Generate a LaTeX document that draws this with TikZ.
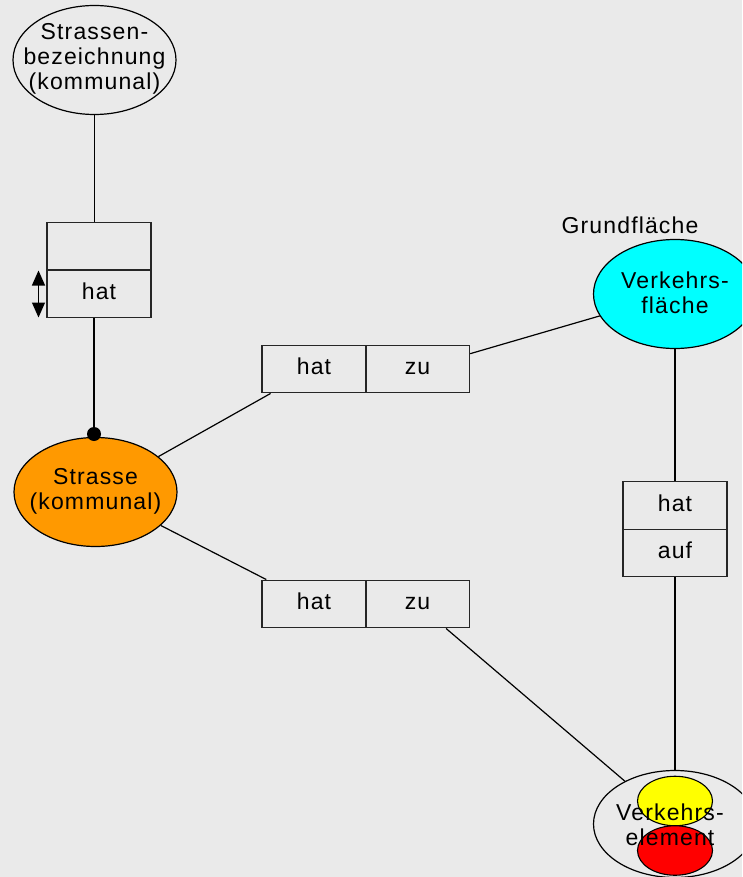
\documentclass[tikz,border=0pt]{standalone}
\usepackage{fontspec}
\setmainfont{Liberation Sans}[LetterSpace=5]
\usetikzlibrary{shapes.geometric,arrows.meta}
\definecolor{bg}{HTML}{EAEAEA}
\definecolor{orangefill}{HTML}{FF9900}
\definecolor{cyanfill}{HTML}{00FFFF}
\definecolor{yellowfill}{HTML}{FFFF00}
\definecolor{redfill}{HTML}{FF0000}
\tikzset{
  lbl/.style={font=\fontsize{23}{25}\selectfont, align=center, text=black, inner sep=0pt},
  entity/.style={ellipse, draw=black, line width=1.2pt, minimum width=163pt,
    minimum height=109pt, inner sep=0pt},
  cell/.style={rectangle, draw=black!85, line width=1.4pt, minimum width=104pt,
    minimum height=47.5pt, inner sep=0pt, lbl, text height=16.5pt, text depth=5pt},
  conn/.style={draw=black, line width=1.2pt},
  marker/.style={ellipse, draw=black, line width=1.1pt, minimum width=75pt,
    minimum height=49.5pt, inner sep=0pt},
}
\begin{document}
\begin{tikzpicture}[x=1pt, y=-1pt]
  \fill[bg] (0,0) rectangle (742,877);
  \useasboundingbox (0,0) rectangle (742,877);
  \clip (0,0) rectangle (742,877);

  % entities (outlines), their names are set on top
  \node[entity] (bez) at (94.5,60) {};
  \node[lbl] (bezt) at (94.5,58.5) {Strassen-\\bezeichnung\\(kommunal)};
  \node[entity, fill=orangefill] (str) at (95.5,492) {};
  \node[lbl] (strt) at (95.5,491) {Strasse\\(kommunal)};
  \node[entity, fill=cyanfill] (vf) at (675,294) {};
  \node[lbl] (vft) at (675,293) {Verkehrs-\\fläche};
  \node[lbl] (grund) at (630,225) {Grundfläche};
  \node[entity, minimum height=107pt] (ve) at (675,824) {};
  \node[marker, fill=yellowfill] (ye) at (675,801) {};
  \node[marker, fill=redfill] (re) at (675,850.5) {};
  \node[lbl] (vet) at (670,825) {Verkehrs-\\element};

  % relationship boxes
  \node[cell] (b1top) at (99,246.5) {};
  \node[cell] (b1bot) at (99,293.5) {hat};
  \node[cell] (b2a) at (314,369) {hat};
  \node[cell] (b2b) at (417.5,369) {zu};
  \node[cell] (b3a) at (314,604) {hat};
  \node[cell] (b3b) at (417.5,604) {zu};
  \node[cell] (b4top) at (675,505.5) {hat};
  \node[cell] (b4bot) at (675,553) {auf};

  % direction arrow beside the first box
  \coordinate (arrA) at (38.5,270.5);
  \coordinate (arrB) at (38.5,317.5);
  \draw[line width=1.2pt, {Triangle[length=15pt,width=13pt]}-{Triangle[length=15pt,width=13pt]}]
    (arrA) -- (arrB);

  % dot where the line meets the street
  \node[circle, fill=black, inner sep=0pt, minimum size=14pt] (dot) at (94,434) {};

  % connectors
  \draw[conn] (bez.south) -- (bez.south |- b1top.north);
  \draw[conn] (b1bot.south -| dot) -- (dot);
  \draw[conn] (b2a) -- (str);
  \draw[conn] (b2b) -- (vf);
  \draw[conn] (b3a) -- (str);
  \draw[conn] (b3b) -- (ve);
  \draw[conn] (vf) -- (b4top);
  \draw[conn] (b4bot) -- (ve);
\end{tikzpicture}
\end{document}
